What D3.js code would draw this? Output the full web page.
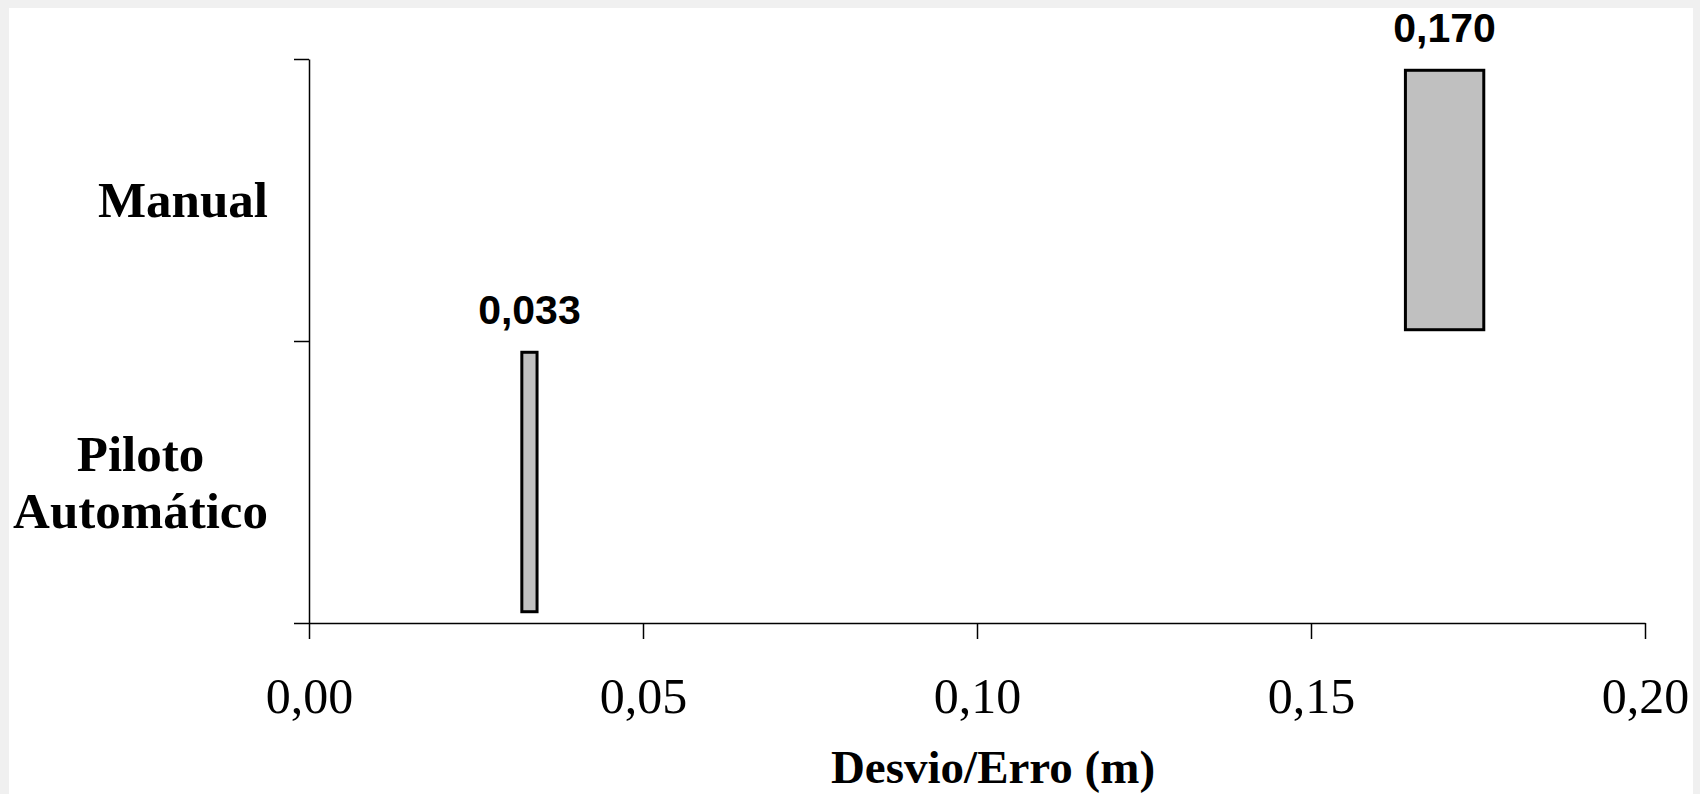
<!DOCTYPE html>
<meta charset="utf-8">
<head>
  <style>
    body { margin: 0; background: #f0f0f0; }
    svg { display: block; }
    .cat { font-family: 'Liberation Serif', serif; font-weight: bold; font-size: 51px; fill: #000; }
    .tick text { font-family: 'Liberation Serif', serif; font-size: 50px; fill: #000; }
    .vlbl { font-family: 'Liberation Sans', Arial, sans-serif; font-weight: bold; font-size: 41px; fill: #000; text-anchor: middle; }
    .xtitle { font-family: 'Liberation Serif', serif; font-weight: bold; font-size: 47px; fill: #000; text-anchor: middle; }
  </style>
</head>
<body>
<svg id="chart" width="1700" height="794"></svg>

<script src="https://d3js.org/d3.v7.min.js"></script>
<script>

  // data, top to bottom
  var categories = ["Manual", "Piloto\nAutomático"];
  var values = [0.170, 0.033];
  var valueLabels = ["0,170", "0,033"];
  var xTicks = [0, 0.05, 0.10, 0.15, 0.20];
  var xTitle = "Desvio/Erro (m)";

  var W = 1700, H = 794;
  var plotL = 309, plotR = 1645, plotT = 59, plotB = 623;

  var svg = d3.select("#chart");

  // white plot card over the grey page
  svg.append("rect").attr("x", 9).attr("y", 8)
     .attr("width", 1693 - 9).attr("height", H - 8)
     .attr("fill", "#fff");

  var x = d3.scaleLinear().domain([0, 0.2]).range([plotL, plotR]);
  var yb = d3.scaleBand().domain(categories).range([plotT, plotB])
             .paddingInner(0.08).paddingOuter(0.04);
  var yEdge = d3.scaleLinear().domain([0, categories.length]).range([plotB, plotT]);

  // bars  (width grows with the value, like in the original)
  var barSpread = 0.0345;
  svg.selectAll("rect.bar").data(values).enter().append("rect")
     .attr("class", "bar")
     .attr("x", d => x(d * (1 - barSpread)))
     .attr("width", d => x(d * (1 + barSpread)) - x(d * (1 - barSpread)))
     .attr("y", (d, i) => yb(categories[i]))
     .attr("height", yb.bandwidth())
     .attr("fill", "#c0c0c0")
     .attr("stroke", "#000")
     .attr("stroke-width", 3);

  svg.selectAll("text.vlbl").data(values).enter().append("text")
     .attr("class", "vlbl")
     .attr("x", d => x(d))
     .attr("y", (d, i) => yb(categories[i]) - 28)
     .text((d, i) => valueLabels[i]);

  // y axis: ticks sit on the category edges
  var yAxis = svg.append("g").attr("transform", "translate(" + plotL + ",0)")
     .call(d3.axisLeft(yEdge).tickValues(d3.range(categories.length + 1))
             .tickSize(15).tickSizeOuter(0).tickFormat(""));
  yAxis.selectAll("path, line").attr("stroke", "#000").attr("stroke-width", 1.5);

  // x axis
  var xAxis = svg.append("g").attr("transform", "translate(0," + plotB + ")")
     .call(d3.axisBottom(x).tickValues(xTicks).tickSize(16).tickSizeOuter(0)
             .tickFormat(d => d3.format(".2f")(d).replace(".", ",")));
  xAxis.selectAll("path, line").attr("stroke", "#000").attr("stroke-width", 1.5);
  xAxis.selectAll("text").attr("y", 90).attr("dy", 0);
  xAxis.attr("font-family", null).attr("font-size", null);

  // category labels, multi-line ones centred inside a right-aligned block
  var lineH = 57, labelRight = 268, capHalf = 17;
  categories.forEach(function (c) {
    var lines = c.split("\n");
    var cy = yb(c) + yb.bandwidth() / 2;
    var t = svg.append("text").attr("class", "cat").attr("text-anchor", "middle");
    lines.forEach(function (ln, j) {
      t.append("tspan").attr("y", cy + capHalf + (j - (lines.length - 1) / 2) * lineH).text(ln);
    });
    var wmax = d3.max(t.selectAll("tspan").nodes(), n => n.getComputedTextLength());
    t.selectAll("tspan").attr("x", labelRight - wmax / 2);
  });

  svg.append("text").attr("class", "xtitle")
     .attr("x", 993).attr("y", 783)
     .text(xTitle);

</script>
</body>
